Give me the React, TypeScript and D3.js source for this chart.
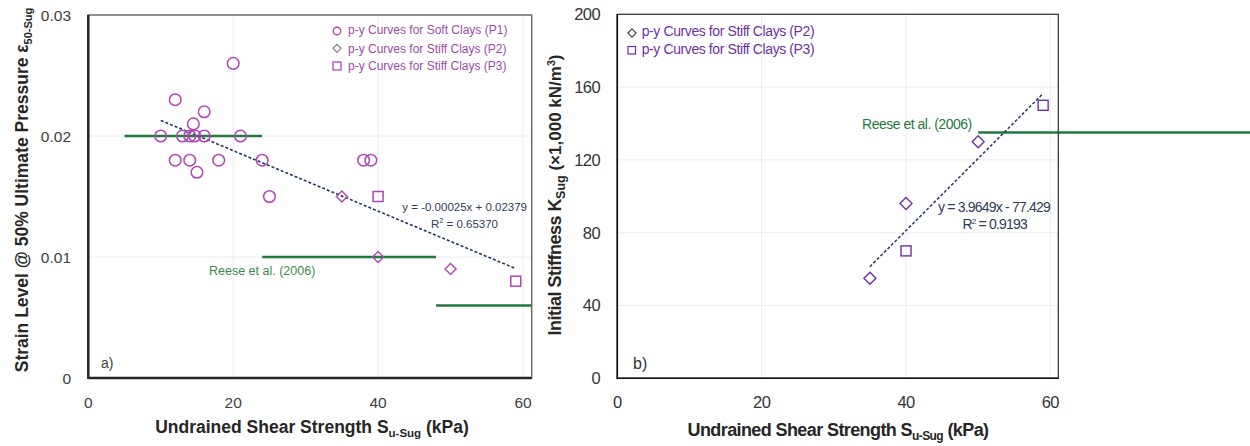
import React from 'react';
import * as d3 from 'd3';

// shared x ticks (undrained shear strength, kPa)
const xTicks = [0, 20, 40, 60];

// panel a) strain level at 50% ultimate pressure
const softSu = [10, 12, 12, 13, 14, 14, 14.5, 14.7, 15, 16, 16, 18, 20, 21, 24, 25, 38, 39];
const softEps = [0.02, 0.023, 0.018, 0.02, 0.02, 0.018, 0.021, 0.02, 0.017, 0.022, 0.02, 0.018, 0.026, 0.02, 0.018, 0.015, 0.018, 0.018];
const stiffP2Su = [35, 40, 50];
const stiffP2Eps = [0.015, 0.01, 0.009];
const stiffP3Su = [40, 59];
const stiffP3Eps = [0.015, 0.008];
const epsTicks = [0, 0.01, 0.02, 0.03];
const reeseEpsFrom = [5, 24, 48];
const reeseEpsTo = [24, 48, 61.2];
const reeseEps = [0.02, 0.01, 0.006];
const epsFit = { slope: -0.00025, intercept: 0.02379 };

// panel b) initial stiffness
const kP2Su = [35, 40, 50];
const kP2 = [55, 96, 130];
const kP3Su = [40, 59];
const kP3 = [70, 150];
const kTicks = [0, 40, 80, 120, 160, 200];
const reeseKFrom = [50];
const reeseKTo = [90];
const reeseK = [135];
const kFit = { slope: 3.9649, intercept: -77.429 };

const GREEN = '#1f7a3c';
const NAVY = '#1f3864';
const MAGENTA = '#b046b4';
const PURPLE = '#7030a0';
const NARROW = '"Liberation Sans Narrow", "Arial Narrow", "Liberation Sans", sans-serif';
const SANS = '"Liberation Sans", Arial, sans-serif';

const diamond = (r: number) => `M0,${-r}L${r},0L0,${r}L${-r},0Z`;

export default function App() {
  // panel a scales
  const xa = d3.scaleLinear().domain([0, 61.2]).range([88.3, 531.7]);
  const ya = d3.scaleLinear().domain([0, 0.03]).range([378, 15]);
  // panel b scales
  const xb = d3.scaleLinear().domain([0, 61.1]).range([617.3, 1058.3]);
  const yb = d3.scaleLinear().domain([0, 200]).range([378.3, 14.3]);

  const fitA = d3.line<number>().x(d => xa(d)).y(d => ya(epsFit.slope * d + epsFit.intercept));
  const fitB = d3.line<number>().x(d => xb(d)).y(d => yb(kFit.slope * d + kFit.intercept));
  const suA = d3.extent(softSu.concat(stiffP2Su, stiffP3Su)) as [number, number];
  const suB = d3.extent(kP2Su.concat(kP3Su)) as [number, number];

  const [ax0, ax1] = xa.range();
  const [ay0, ay1] = ya.range();
  const [bx0, bx1] = xb.range();
  const [by0, by1] = yb.range();

  return (
    <svg width={1250} height={446} style={{ position: 'absolute', left: 0, top: 0, background: '#fff' }}>
      {/* ---------- panel a ---------- */}
      <g fontFamily={SANS}>
        {xTicks.filter(t => t > 0).map(t => (
          <line key={'gx' + t} x1={xa(t)} x2={xa(t)} y1={ay1} y2={ay0} stroke="#ececec" strokeWidth={1} />
        ))}
        {epsTicks.filter(t => t > 0 && t < 0.03).map(t => (
          <line key={'gy' + t} x1={ax0} x2={ax1} y1={ya(t)} y2={ya(t)} stroke="#ececec" strokeWidth={1} />
        ))}
        <rect x={ax0} y={ay1} width={ax1 - ax0} height={ay0 - ay1} fill="none" stroke="#6b6b6b" strokeWidth={1.5} />
        <line x1={ax0} x2={ax0} y1={ay1} y2={ay0 + 1} stroke="#262626" strokeWidth={2.5} />
        <line x1={ax0} x2={ax1} y1={ay0} y2={ay0} stroke="#262626" strokeWidth={2.5} />

        {reeseEps.map((v, i) => (
          <line key={'ra' + i} x1={xa(reeseEpsFrom[i])} x2={xa(reeseEpsTo[i])} y1={ya(v)} y2={ya(v)} stroke={GREEN} strokeWidth={2.5} />
        ))}
        <path d={fitA(suA) || ''} fill="none" stroke={NAVY} strokeWidth={1.6} strokeDasharray="3,2" />

        {softSu.map((s, i) => (
          <circle key={'c' + i} cx={xa(s)} cy={ya(softEps[i])} r={5.8} fill="none" stroke={MAGENTA} strokeWidth={1.5} />
        ))}
        {stiffP2Su.map((s, i) => (
          <path key={'d' + i} d={diamond(5.5)} transform={`translate(${xa(s)},${ya(stiffP2Eps[i])})`} fill="none" stroke={MAGENTA} strokeWidth={1.4} />
        ))}
        {stiffP3Su.map((s, i) => (
          <rect key={'s' + i} x={xa(s) - 5} y={ya(stiffP3Eps[i]) - 5} width={10} height={10} fill="none" stroke={MAGENTA} strokeWidth={1.5} />
        ))}

        {epsTicks.map(t => (
          <text key={'ty' + t} x={71} y={ya(t)} dy="0.36em" textAnchor="end" fontSize={15.5} fill="#404040">{t === 0 ? '0' : t.toFixed(2)}</text>
        ))}
        {xTicks.map(t => (
          <text key={'tx' + t} x={xa(t)} y={402} dy="0.36em" textAnchor="middle" fontSize={15.5} fill="#404040">{t}</text>
        ))}

        <text x={312} y={427} dy="0.36em" textAnchor="middle" fontSize={17.5} fontWeight="bold" fill="#262626">
          Undrained Shear Strength S<tspan fontSize={11.5} dy={4}>u-Sug</tspan><tspan dy={-4}> (kPa)</tspan>
        </text>
        <text transform="translate(22,190) rotate(-90)" dy="0.36em" textAnchor="middle" fontSize={17.5} fontWeight="bold" fill="#262626">
          Strain Level @ 50% Ultimate Pressure ε<tspan fontSize={11} dy={4}>50-Sug</tspan>
        </text>

        {/* legend */}
        <g fontSize={12} fill="#a04aa8">
          <circle cx={337} cy={31} r={3.8} fill="none" stroke={MAGENTA} strokeWidth={1.4} />
          <text x={348} y={30} dy="0.36em">p-y Curves for Soft Clays (P1)</text>
          <path d={diamond(4)} transform="translate(337,48.3)" fill="none" stroke="#808080" strokeWidth={1.2} />
          <text x={348} y={48.3} dy="0.36em">p-y Curves for Stiff Clays (P2)</text>
          <rect x={333} y={62} width={8} height={8} fill="none" stroke={MAGENTA} strokeWidth={1.3} />
          <text x={348} y={66} dy="0.36em">p-y Curves for Stiff Clays (P3)</text>
        </g>

        <g fontSize={11.5} fill="#2f3d55">
          <text x={527} y={207} dy="0.36em" textAnchor="end">y = -0.00025x + 0.02379</text>
          <text x={498} y={224} dy="0.36em" textAnchor="end">R<tspan fontSize={7} dy={-5}>2</tspan><tspan dy={5}> = 0.65370</tspan></text>
        </g>
        <text x={209} y={270.5} dy="0.36em" fontSize={12.5} fill="#3d8a4f">Reese et al. (2006)</text>
        <text x={101} y={363} dy="0.36em" fontSize={14} fill="#404040">a)</text>
      </g>

      {/* ---------- panel b ---------- */}
      <g fontFamily={NARROW}>
        {xTicks.filter(t => t > 0).map(t => (
          <line key={'gbx' + t} x1={xb(t)} x2={xb(t)} y1={by1} y2={by0} stroke="#ececec" strokeWidth={1} />
        ))}
        {kTicks.filter(t => t > 0 && t < 200).map(t => (
          <line key={'gby' + t} x1={bx0} x2={bx1} y1={yb(t)} y2={yb(t)} stroke="#ececec" strokeWidth={1} />
        ))}

        {reeseK.map((v, i) => (
          <line key={'rb' + i} x1={xb(reeseKFrom[i])} x2={xb(reeseKTo[i])} y1={yb(v)} y2={yb(v)} stroke={GREEN} strokeWidth={2.5} />
        ))}
        <rect x={bx0} y={by1} width={bx1 - bx0} height={by0 - by1} fill="none" stroke="#3a3a3a" strokeWidth={1.3} />
        <line x1={bx0} x2={bx0} y1={by1} y2={by0 + 1} stroke="#111" strokeWidth={1.6} />
        <line x1={bx0} x2={bx1} y1={by0} y2={by0} stroke="#111" strokeWidth={1.6} />

        <path d={fitB(suB) || ''} fill="none" stroke={NAVY} strokeWidth={1.5} strokeDasharray="3,2" />
        {kP2Su.map((s, i) => (
          <path key={'bd' + i} d={diamond(6)} transform={`translate(${xb(s)},${yb(kP2[i])})`} fill="none" stroke={PURPLE} strokeWidth={1.4} />
        ))}
        {kP3Su.map((s, i) => (
          <rect key={'bs' + i} x={xb(s) - 5} y={yb(kP3[i]) - 5} width={10} height={10} fill="none" stroke={PURPLE} strokeWidth={1.4} />
        ))}

        {kTicks.map(t => (
          <text key={'tby' + t} x={600} y={yb(t)} dy="0.36em" textAnchor="end" fontSize={16.5} fill="#333" letterSpacing={-0.6}>{t}</text>
        ))}
        {xTicks.map(t => (
          <text key={'tbx' + t} x={xb(t)} y={402} dy="0.36em" textAnchor="middle" fontSize={16.5} fill="#333" letterSpacing={-0.6}>{t}</text>
        ))}

        <text x={838} y={430} dy="0.36em" textAnchor="middle" fontSize={18} fontWeight="bold" fill="#262626" letterSpacing={-0.6}>
          Undrained Shear Strength S<tspan fontSize={12} dy={4}>u-Sug</tspan><tspan dy={-4}> (kPa)</tspan>
        </text>
        <text transform="translate(555,195) rotate(-90)" dy="0.36em" textAnchor="middle" fontSize={18} fontWeight="bold" fill="#262626">
          <tspan letterSpacing={-0.5}>Initial Stiffness K</tspan><tspan fontSize={12.5} dy={4}>Sug</tspan>
          <tspan dy={-4} fontFamily={SANS} fontSize={17}> (×1,000 kN/m</tspan><tspan fontFamily={SANS} fontSize={10.5} dy={-6}>3</tspan><tspan fontFamily={SANS} fontSize={17} dy={6}>)</tspan>
        </text>

        {/* legend */}
        <g fontSize={14} fill={PURPLE} letterSpacing={-0.4}>
          <path d={diamond(4.2)} transform="translate(632,33)" fill="none" stroke="#404040" strokeWidth={1.1} />
          <text x={641.7} y={30.7} dy="0.36em">p-y Curves for Stiff Clays (P2)</text>
          <rect x={628} y={46.5} width={7.5} height={7.5} fill="none" stroke={PURPLE} strokeWidth={1.2} />
          <text x={641.7} y={49} dy="0.36em">p-y Curves for Stiff Clays (P3)</text>
        </g>

        <g fontSize={14} fill="#2f3d55" letterSpacing={-0.8}>
          <text x={1050} y={207.3} dy="0.36em" textAnchor="end">y = 3.9649x - 77.429</text>
          <text x={1027} y={224} dy="0.36em" textAnchor="end">R<tspan fontSize={8} dy={-5}>2</tspan><tspan dy={5}> = 0.9193</tspan></text>
        </g>
        <text x={971.7} y={124} dy="0.36em" textAnchor="end" fontSize={14} fill={GREEN} letterSpacing={-0.5}>Reese et al. (2006)</text>
        <text x={633} y={363} dy="0.36em" fontSize={16} fill="#333">b)</text>
      </g>
    </svg>
  );
}
